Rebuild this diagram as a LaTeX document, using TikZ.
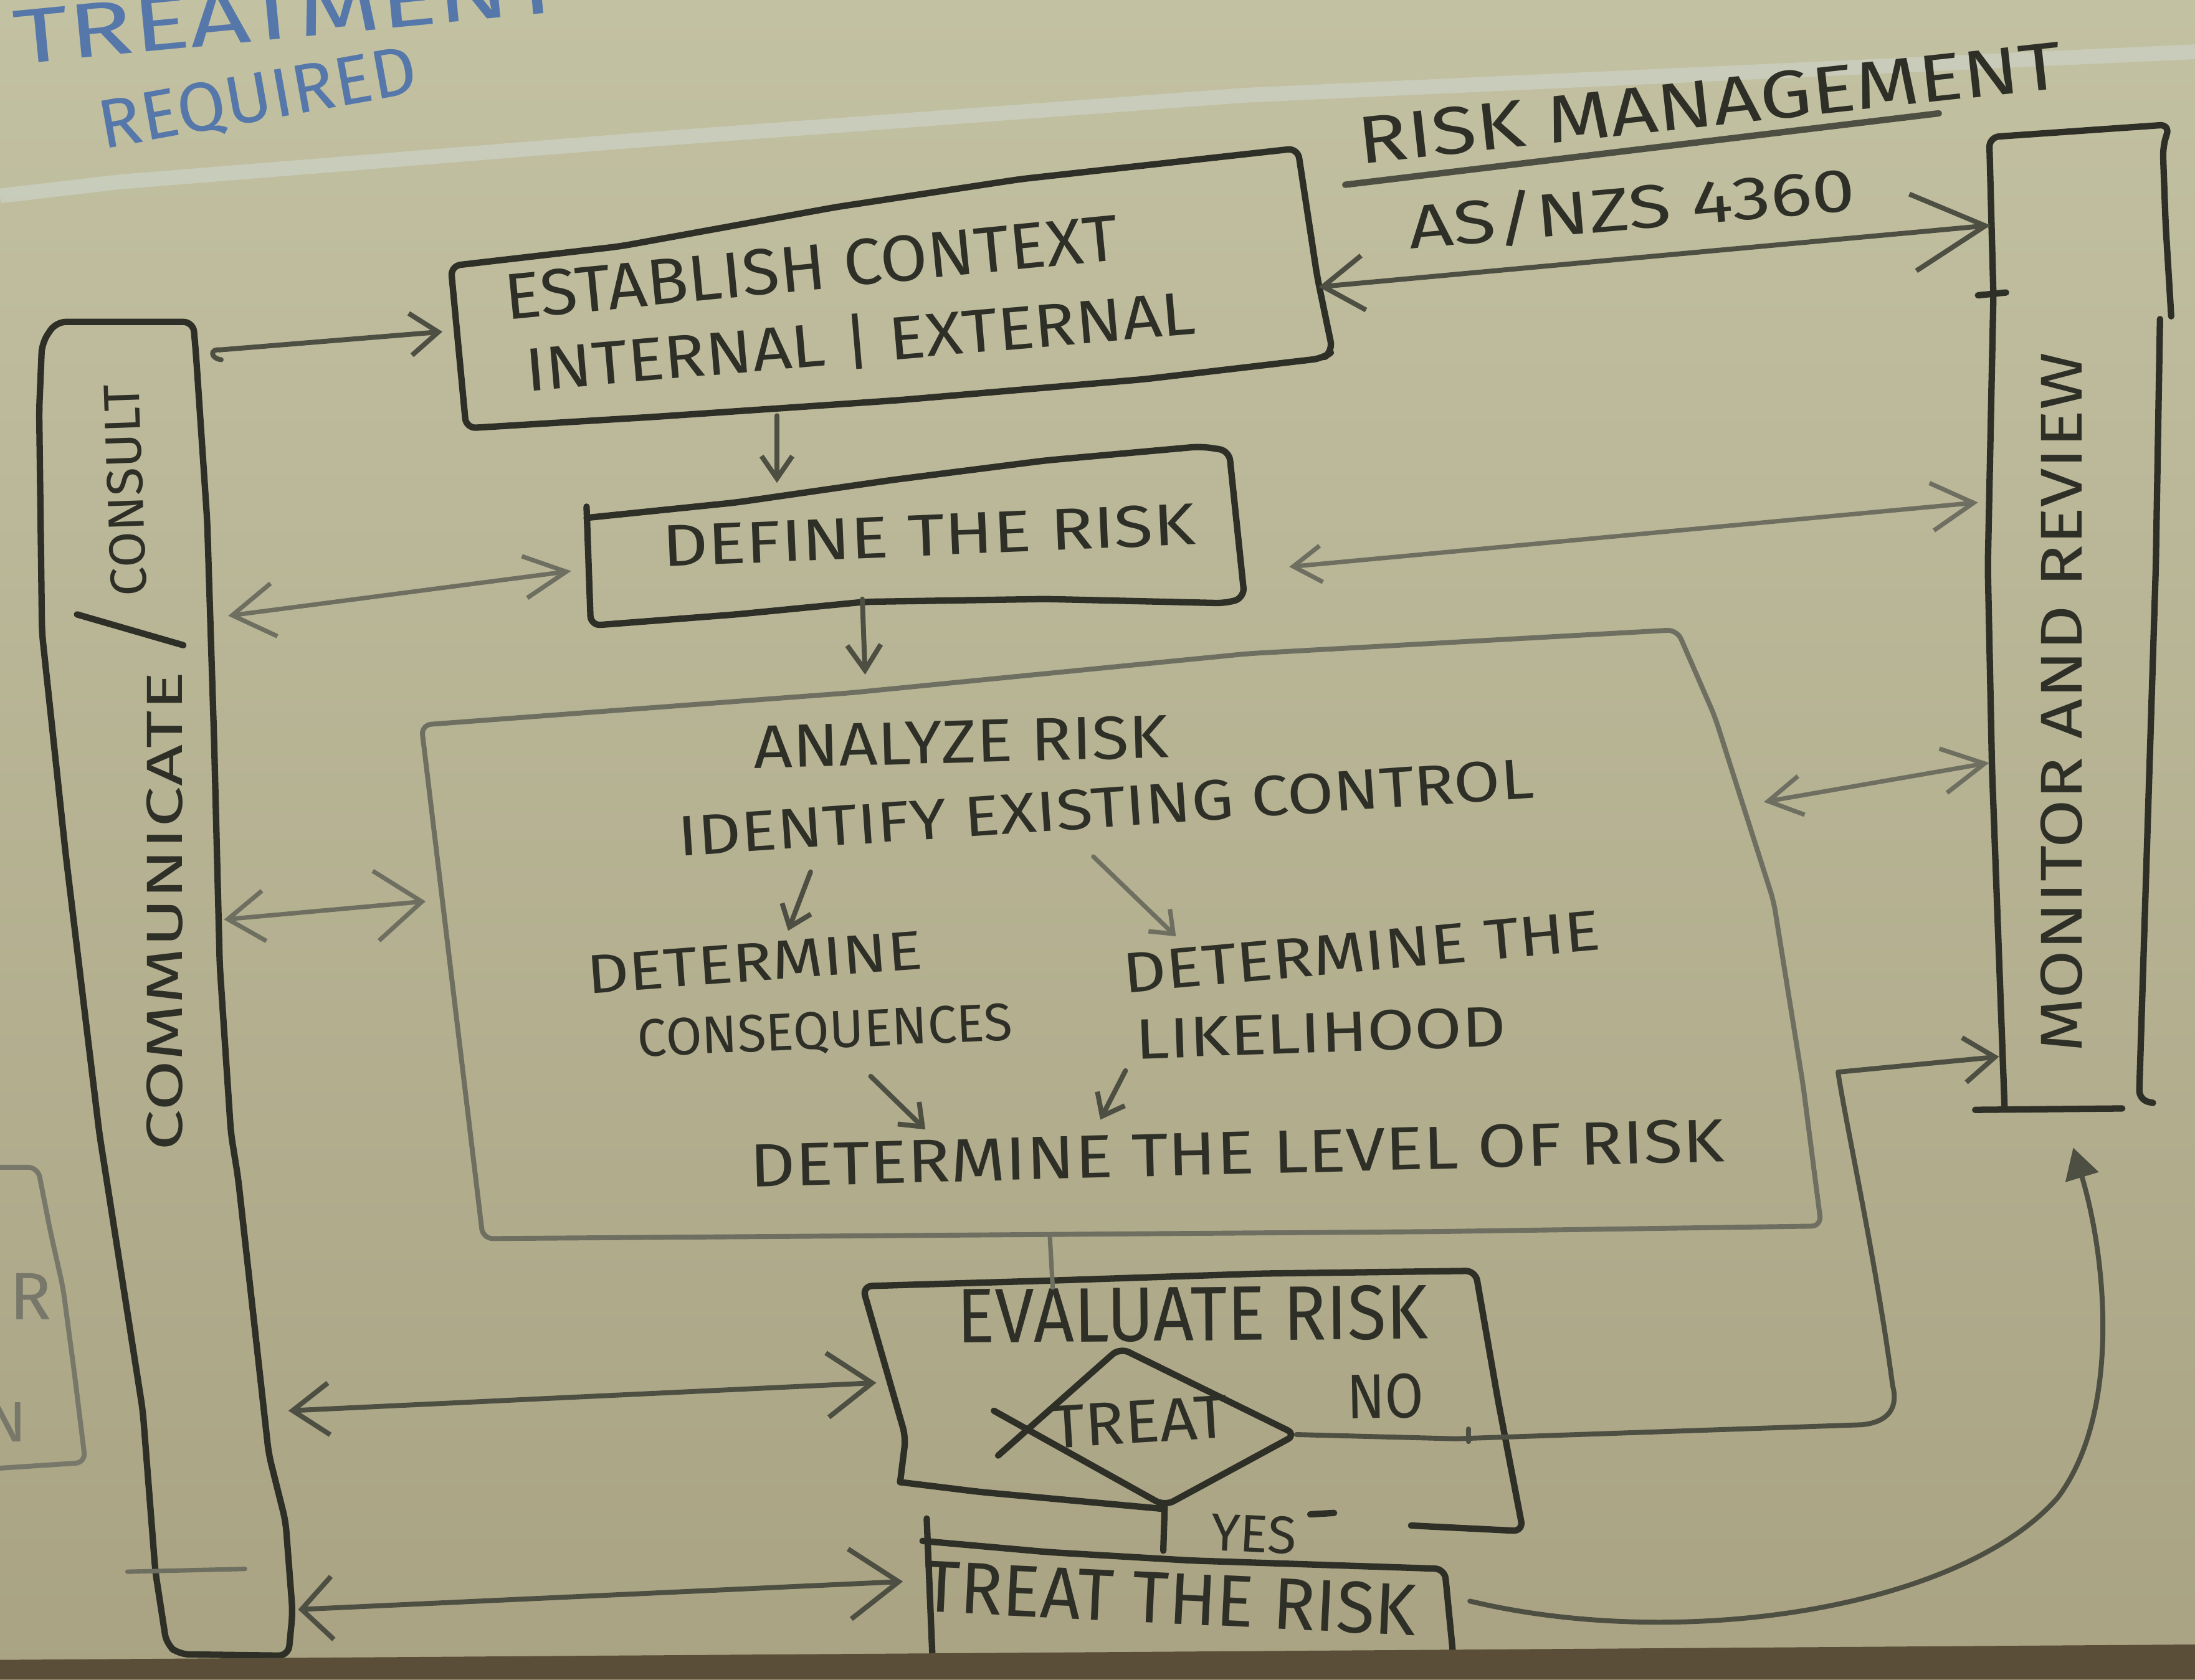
\documentclass[tikz,border=0pt]{standalone}
\usepackage{fontspec}
\usepackage{graphicx}
\setmainfont{Fira Sans}
\usetikzlibrary{arrows.meta}
\newcommand\capbox[1]{\setbox0=\hbox{#1}\ht0=\fontcharht\font`H\dp0=0pt\box0}
\newcommand\hw[3]{\resizebox{#1}{#2}{\capbox{#3}}}
\definecolor{bgtop}{HTML}{C2C1A2}
\definecolor{bgbot}{HTML}{A9A383}
\definecolor{inkc}{HTML}{2E2F27}
\definecolor{midc}{HTML}{4E4F43}
\definecolor{lightc}{HTML}{6E6F60}
\definecolor{bluec}{HTML}{5577AA}
\definecolor{bandc}{HTML}{5A4E38}
\definecolor{fadec}{HTML}{78786A}
\definecolor{boardline}{HTML}{CDD2C6}
\tikzset{
  box/.style={draw=inkc, line width=1.3pt, line cap=round, line join=round, rounded corners=2pt},
  lbox/.style={draw=lightc, line width=1pt, line cap=round, line join=round, rounded corners=2pt},
  fbox/.style={draw=fadec, line width=1pt, line cap=round, line join=round, rounded corners=2pt},
  con/.style={draw=midc, line width=1pt, line cap=round, line join=round},
  lcon/.style={draw=lightc, line width=0.9pt, line cap=round, line join=round},
  txt/.style={inner sep=0pt, outer sep=0pt, anchor=base, text=inkc},
  btxt/.style={txt, text=bluec},
  ftxt/.style={txt, text=fadec}
}
\begin{document}
\begin{tikzpicture}[x=0.01cm,y=-0.01cm]
\useasboundingbox (0,0) rectangle (1568,1200);
\clip (0,0) rectangle (1568,1200);
\fill[top color=bgtop,bottom color=bgbot] (0,0) rectangle (1568,1200);
\draw[boardline, line width=3pt, opacity=0.7] (0,140) -- (85,130) -- (445,101) -- (890,68) -- (1568,37);

% ---------- top-left blue notes ----------
\node[btxt, rotate=5.5] (tTreatment) at (208,27) {\hw{3.94cm}{0.38cm}{TREATMENT}};
\node[btxt, rotate=10.2] (tRequired) at (187,86) {\hw{2.30cm}{0.34cm}{REQUIRED}};

% ---------- left fragment ----------
\draw[fbox] (0,834) -- (27,834) -- (36,880) -- (45,920) -- (53,980) -- (61,1045) -- (0,1049);
\node[ftxt] (tFragR) at (22,943) {\hw{0.30cm}{0.33cm}{R}};
\node[ftxt] (tFragN) at (4,1030) {\hw{0.30cm}{0.28cm}{N}};

% ---------- communicate / consult ----------
\draw[box] (119,1175) -- (111,1123) -- (102,1008) -- (71,810) -- (47,611) -- (30,452) -- (28,293) -- (30,245) -- (40,230) -- (138,230) -- (140,253) -- (148,372) -- (153,531) -- (157,690) -- (165,810) -- (170,841) -- (192,1039) -- (204,1087) -- (209,1152) -- (206,1183) -- (128,1182) -- cycle;
\draw[lcon] (91,1123) -- (175,1121);
\node[txt, rotate=90] (tComm) at (130,651) {\hw{3.42cm}{0.25cm}{COMMUNICATE}};
\node[txt, rotate=92] (tCons) at (102,350) {\hw{1.51cm}{0.25cm}{CONSULT}};
\draw[box] (55,439) -- (131,461);

% ---------- establish context ----------
\draw[box] (333,306) -- (322,190) -- (443,176) -- (597,148) -- (729,128) -- (927,106) -- (941,198) -- (952,251) -- (945,256) -- (817,271) -- (641,286) -- (465,298) -- cycle;
\node[txt, rotate=5.6] (tCtx1) at (581,207) {\hw{4.40cm}{0.32cm}{ESTABLISH CONTEXT}};
\node[txt, rotate=4.9] (tCtx2) at (616,259) {\hw{4.80cm}{0.30cm}{INTERNAL | EXTERNAL}};

% ---------- risk management title ----------
\node[txt, rotate=6.2] (tRM) at (1223,90) {\hw{5.05cm}{0.33cm}{RISK MANAGEMENT}};
\draw[con, line width=1.3pt] (961,132) -- (1385,81);
\node[txt, rotate=5] (tAS) at (1167,164) {\hw{3.20cm}{0.30cm}{AS/NZS 4360}};

% ---------- monitor and review ----------
\draw[box] (1432,792) -- (1423,549) -- (1420,405) -- (1424,211) -- (1421,98) -- (1550,89) -- (1545,105) -- (1547,160) -- (1551,226);
\draw[box] (1543,228) -- (1540,405) -- (1528,786) -- (1538,788);
\draw[box] (1411,793) -- (1516,792);
\draw[box] (1413,211) -- (1433,209);
\node[txt, rotate=90] (tMon) at (1487,502) {\hw{5.00cm}{0.29cm}{MONITOR AND REVIEW}};

% ---------- define the risk ----------
\draw[box] (419,362) -- (422,447) -- (526,439) -- (618,430) -- (747,428) -- (876,431) -- (889,427) -- (878,322) -- (858,319) -- (747,329) -- (637,343) -- (526,359) -- (419,370);
\node[txt, rotate=2.4] (tDef) at (664,397) {\hw{3.81cm}{0.29cm}{DEFINE THE RISK}};

% ---------- analyze risk ----------
\draw[lbox] (301,518) -- (608,495) -- (892,467) -- (1198,450) -- (1225,512) -- (1267,644) -- (1288,775) -- (1301,876) -- (1024,880) -- (345,885) -- cycle;
\node[txt, rotate=1.5] (tAna) at (687,545) {\hw{2.96cm}{0.30cm}{ANALYZE RISK}};
\node[txt, rotate=3.9] (tIEC) at (791,591) {\hw{6.12cm}{0.28cm}{IDENTIFY EXISTING CONTROL}};
\node[txt, rotate=4.3] (tDC1) at (540,701) {\hw{2.40cm}{0.27cm}{DETERMINE}};
\node[txt, rotate=2.6] (tDC2) at (590,749) {\hw{2.68cm}{0.26cm}{CONSEQUENCES}};
\node[txt, rotate=5.2] (tDL1) at (974,694) {\hw{3.42cm}{0.28cm}{DETERMINE THE}};
\node[txt, rotate=2] (tDL2) at (944,752) {\hw{2.65cm}{0.28cm}{LIKELIHOOD}};
\node[txt, rotate=1.5] (tLvl) at (884,839) {\hw{6.96cm}{0.30cm}{DETERMINE THE LEVEL OF RISK}};

% ---------- evaluate risk ----------
\draw[box] (643,1059) -- (647,1027) -- (616,919) -- (750,915) -- (900,910) -- (1054,908) -- (1070,1000) -- (1088,1094) -- (1008,1090);
\draw[box] (643,1059) -- (700,1066) -- (830,1078);
\draw[box] (936,1082) -- (953,1081);
\node[txt, rotate=0.5] (tEval) at (852,958) {\hw{3.36cm}{0.38cm}{EVALUATE RISK}};
\coordinate (dT) at (800,963);
\coordinate (dR) at (926,1025);
\coordinate (dB) at (832,1076);
\coordinate (dL1) at (713,1040);
\coordinate (dL2) at (710,1008);
\coordinate (dY) at (831,1108);
\draw[box] (dL1) -- (dT) -- (dR) -- (dB) -- (dL2);
\draw[box] (dB) -- (dY);
\node[txt, rotate=3.6] (tTreatD) at (815,1031) {\hw{1.26cm}{0.30cm}{TREAT}};
\node[txt, rotate=1] (tNo) at (990,1013) {\hw{0.55cm}{0.31cm}{NO}};
\node[txt, rotate=-3] (tYes) at (895,1109) {\hw{0.61cm}{0.26cm}{YES}};

% ---------- treat the risk ----------
\draw[box] (662,1085) -- (666,1182);
\draw[box] (659,1101) -- (749,1109) -- (851,1115) -- (1032,1121) -- (1038,1182);
\node[txt, rotate=-2.8] (tTR) at (835,1160) {\hw{3.52cm}{0.36cm}{TREAT THE RISK}};

% ---------- connectors ----------
\coordinate (cA1) at (157,250); \coordinate (cA2) at (316,237);
\draw[con, -{Straight Barb[length=0.2cm,width=0.3cm]}] (cA1) -- (cA2);
\draw[con] (cA1) .. controls (150,249) and (150,256) .. (158,257);

\coordinate (cB1) at (942,205); \coordinate (cB2) at (1422,161);
\draw[con, {Straight Barb[length=0.29cm,width=0.39cm]}-{Straight Barb[length=0.52cm,width=0.55cm]}] (cB1) -- (cB2);

\coordinate (cC1) at (555,297); \coordinate (cC2) at (555,345);
\draw[con, -{Straight Barb[length=0.16cm,width=0.22cm]}] (cC1) -- (cC2);

\coordinate (cD1) at (163,440); \coordinate (cD2) at (408,408);
\draw[lcon, {Straight Barb[length=0.3cm,width=0.38cm]}-{Straight Barb[length=0.3cm,width=0.3cm]}] (cD1) -- (cD2);

\coordinate (cE1) at (921,405); \coordinate (cE2) at (1413,359);
\draw[lcon, {Straight Barb[length=0.2cm,width=0.26cm]}-{Straight Barb[length=0.3cm,width=0.34cm]}] (cE1) -- (cE2);

\coordinate (cF1) at (616,428); \coordinate (cF2) at (618,482);
\draw[con, -{Straight Barb[length=0.18cm,width=0.24cm]}] (cF1) -- (cF2);

\coordinate (cG1) at (160,657); \coordinate (cG2) at (304,644);
\draw[lcon, {Straight Barb[length=0.26cm,width=0.36cm]}-{Straight Barb[length=0.33cm,width=0.5cm]}] (cG1) -- (cG2);

\coordinate (cH1) at (1260,573); \coordinate (cH2) at (1421,545);
\draw[lcon, {Straight Barb[length=0.24cm,width=0.28cm]}-{Straight Barb[length=0.3cm,width=0.32cm]}] (cH1) -- (cH2);

\coordinate (cI1) at (206,1008); \coordinate (cI2) at (626,988);
\draw[con, {Straight Barb[length=0.26cm,width=0.37cm]}-{Straight Barb[length=0.32cm,width=0.46cm]}] (cI1) -- (cI2);

\coordinate (cJ1) at (213,1150); \coordinate (cJ2) at (645,1130);
\draw[con, {Straight Barb[length=0.22cm,width=0.45cm]}-{Straight Barb[length=0.35cm,width=0.5cm]}] (cJ1) -- (cJ2);

\coordinate (cK1) at (579,623); \coordinate (cK2) at (563,665);
\draw[con, -{Straight Barb[length=0.14cm,width=0.22cm]}] (cK1) -- (cK2);
\coordinate (cL1) at (781,612); \coordinate (cL2) at (840,669);
\draw[lcon, -{Straight Barb[length=0.14cm,width=0.22cm]}] (cL1) -- (cL2);
\coordinate (cM1) at (622,769); \coordinate (cM2) at (661,807);
\draw[con, -{Straight Barb[length=0.14cm,width=0.22cm]}] (cM1) -- (cM2);
\coordinate (cN1) at (804,765); \coordinate (cN2) at (786,800);
\draw[con, -{Straight Barb[length=0.14cm,width=0.22cm]}] (cN1) -- (cN2);

\coordinate (cO1) at (750,884); \coordinate (cO2) at (752,920);
\draw[lcon] (cO1) -- (cO2);

% NO path to monitor
\coordinate (cP2) at (1428,755);
\draw[con, -{Straight Barb[length=0.22cm,width=0.32cm]}] (dR) -- (1040,1028) -- (1330,1018) .. controls (1350,1016) and (1356,1005) .. (1352,990) .. controls (1340,900) and (1318,800) .. (1313,766) -- (cP2);
\draw[con] (1049,1021) -- (1049,1030);

% treat to monitor curve
\coordinate (cQ1) at (1050,1144); \coordinate (cQ2) at (1481,820);
\draw[con, -{Triangle[length=0.22cm,width=0.24cm]}] (cQ1) .. controls (1200,1180) and (1400,1150) .. (1470,1070) .. controls (1515,1010) and (1505,900) .. (cQ2);

% bottom dark band
\fill[bandc] (0,1186) -- (1568,1175) -- (1568,1200) -- (0,1200) -- cycle;
\end{tikzpicture}
\end{document}
